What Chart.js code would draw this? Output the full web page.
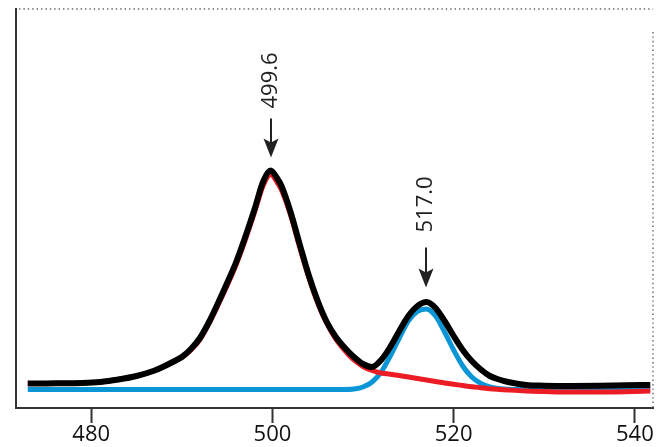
<!DOCTYPE html>
<html>
<head>
<meta charset="utf-8">
<script src="https://cdn.jsdelivr.net/npm/chart.js@4.4.1/dist/chart.umd.min.js"></script>
<style>
  html, body { margin: 0; padding: 0; background: #fff; }
  #wrap { width: 660px; height: 447px; }
</style>
</head>
<body>
<div id="wrap"><canvas id="spec"></canvas></div>
<script>
// wavelength (nm) and the three curves
var wavelength = [473, 475, 477, 479, 481, 483, 485, 487, 488, 489, 490, 491, 492, 493, 494, 495, 496, 497, 498, 499, 499.8, 500.5, 501, 502, 503, 504, 505, 506, 507, 508, 509, 510, 511, 512, 513, 514, 515, 516, 517, 518, 519, 520, 521, 522, 523, 524, 525, 526, 528, 530, 533, 536, 539, 541.7];

var total = [24.5, 24.6, 24.8, 25, 26, 28.5, 32, 37.5, 41.5, 46, 51, 59, 70, 86, 105, 125, 146, 171, 198, 227, 237.5, 230, 222, 196, 164, 133, 107, 86, 71, 60, 51, 44, 41, 48, 61, 77, 92, 102, 106, 100, 87, 72, 58, 47, 38.5, 32, 28.5, 26, 23, 22.3, 22, 22.2, 22.7, 23];

var peak1 = [24.5, 24.6, 24.8, 25, 26, 28.5, 32, 37.5, 41.5, 46, 50.5, 58, 68.5, 84.5, 103, 122.5, 143.5, 168, 195, 223, 233.5, 226, 218, 193, 161, 131, 105, 84.5, 69, 57.5, 48, 41.5, 37.5, 35, 33.8, 32.5, 31, 29.5, 28, 26.5, 25, 23.7, 22.5, 21.3, 20.3, 19.3, 18.6, 18, 17, 16.5, 16, 16, 16.3, 17];

var peak2 = [18.5, 18.5, 18.5, 18.5, 18.5, 18.5, 18.5, 18.5, 18.5, 18.5, 18.5, 18.5, 18.5, 18.5, 18.5, 18.5, 18.5, 18.5, 18.5, 18.5, 18.5, 18.5, 18.5, 18.5, 18.5, 18.5, 18.5, 18.5, 18.5, 18.5, 19, 21, 26, 36, 52, 70, 87, 96.5, 99, 92, 76, 58, 42, 31, 24.5, 21, 19.5, 18.8, 18.5, 18.5, 18.5, 18.5, 18.5, 18.5];

var xTicks = [480, 500, 520, 540];

// peak markers: position, arrow tip / tail and label bottom (data units)
var markers = [
    { x: 499.8, tip: 250.5, tail: 289.5, text: 299.5, label: "499.6" },
    { x: 516.9, tip: 120.5, tail: 160.5, text: 175.5, label: "517.0" }
];

var FONT = "'Open Sans', sans-serif";

function pts(ys) {
    var out = [];
    for (var i = 0; i < wavelength.length; i++) out.push({ x: wavelength[i], y: ys[i] });
    return out;
}

var frameAndArrows = {
    id: 'frameAndArrows',
    beforeDatasetsDraw: function (chart) {
        var c = chart.ctx, a = chart.chartArea;
        c.save();
        c.strokeStyle = '#666';
        c.lineWidth = 1.4;
        c.setLineDash([1.4, 3]);
        c.beginPath();
        c.moveTo(a.left + 3, a.top);
        c.lineTo(a.right, a.top);
        c.moveTo(a.right, a.top + 23);
        c.lineTo(a.right, a.bottom);
        c.stroke();
        c.restore();
    },
    afterDatasetsDraw: function (chart) {
        var c = chart.ctx, xs = chart.scales.x, ys = chart.scales.y;
        c.save();
        markers.forEach(function (m) {
            var px = Math.round(xs.getPixelForValue(m.x));
            var tip = ys.getPixelForValue(m.tip);
            var tail = ys.getPixelForValue(m.tail);
            c.strokeStyle = '#222';
            c.fillStyle = '#222';
            c.lineWidth = 2;
            c.beginPath();
            c.moveTo(px, tail);
            c.lineTo(px, tip - 10);
            c.stroke();
            c.beginPath();
            c.moveTo(px, tip);
            c.lineTo(px - 7.5, tip - 19);
            c.lineTo(px, tip - 15);
            c.lineTo(px + 7.5, tip - 19);
            c.closePath();
            c.fill();
            c.save();
            c.translate(px, ys.getPixelForValue(m.text));
            c.rotate(-Math.PI / 2);
            c.font = '22px ' + FONT;
            c.textAlign = 'left';
            c.textBaseline = 'middle';
            c.fillText(m.label, 0, 0);
            c.restore();
        });
        c.restore();
    }
};

var ctx = document.getElementById('spec').getContext('2d');
var chart = new Chart(ctx, {
    type: 'line',
    data: {
        datasets: [
            {
                label: 'peak 517.0',
                data: pts(peak2),
                borderColor: '#0a96d6',
                borderWidth: 5,
                order: 3
            },
            {
                label: 'peak 499.6',
                data: pts(peak1),
                borderColor: '#ec1c24',
                borderWidth: 5,
                order: 2
            },
            {
                label: 'total',
                data: pts(total),
                borderColor: '#000000',
                borderWidth: 6,
                order: 1
            }
        ]
    },
    options: {
        responsive: true,
        maintainAspectRatio: false,
        animation: false,
        layout: { padding: { left: 16, top: 9, right: 7, bottom: 0 } },
        elements: {
            point: { radius: 0 },
            line: { cubicInterpolationMode: 'monotone', fill: false, borderCapStyle: 'butt', borderJoinStyle: 'round' }
        },
        plugins: {
            legend: { display: false },
            tooltip: { enabled: false }
        },
        scales: {
            x: {
                type: 'linear',
                min: 471.7,
                max: 542,
                afterBuildTicks: function (axis) {
                    axis.ticks = xTicks.map(function (v) { return { value: v }; });
                },
                grid: {
                    drawOnChartArea: false,
                    drawTicks: true,
                    tickLength: 15,
                    tickWidth: 2,
                    tickColor: '#333'
                },
                border: { display: true, color: '#333', width: 2 },
                ticks: {
                    padding: 1,
                    color: '#111',
                    font: { family: FONT, size: 22, lineHeight: 1 }
                }
            },
            y: {
                type: 'linear',
                min: 0,
                max: 399,
                ticks: { display: false },
                grid: { drawOnChartArea: false, drawTicks: false, tickLength: 0 },
                border: { display: true, color: '#333', width: 2 }
            }
        }
    },
    plugins: [frameAndArrows]
});
</script>
</body>
</html>
